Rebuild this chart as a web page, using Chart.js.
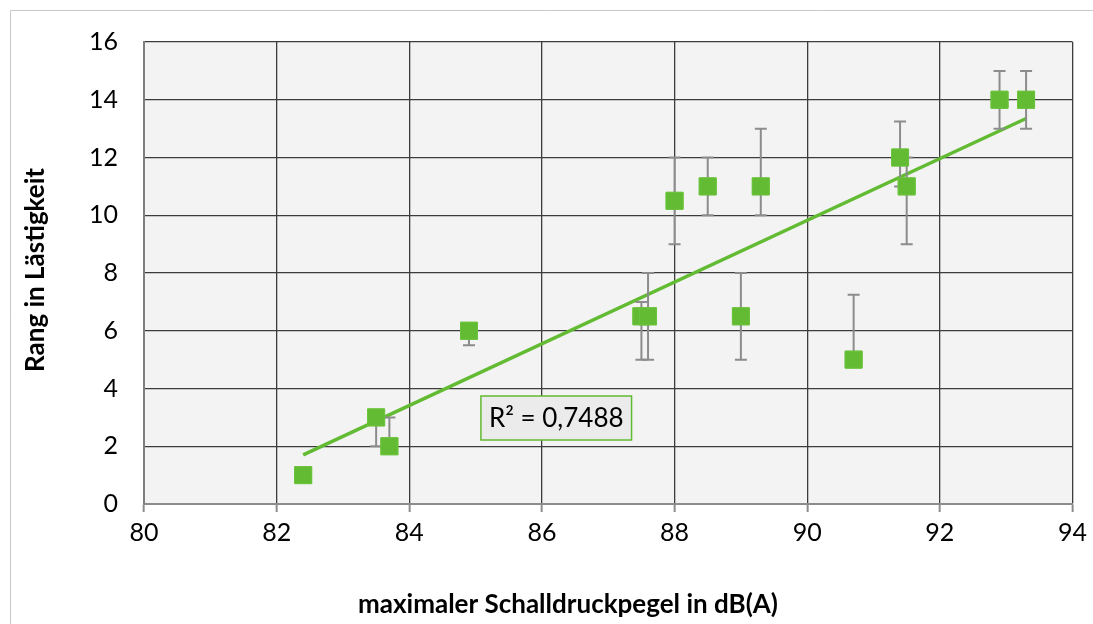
<!DOCTYPE html>
<html>
<head>
<meta charset="utf-8">
<script src="https://cdn.jsdelivr.net/npm/chart.js@4"></script>
<style>
    html, body { margin: 0; padding: 0; background: #fff; }
    #wrap { width: 1093px; height: 624px; position: relative; }
</style>
</head>
<body>
<div id="wrap"><canvas id="chart" width="1093" height="624"></canvas></div>
<script>
// Messwerte: maximaler Pegel vs. Rang in Lästigkeit
const pegel    = [82.4, 83.5, 83.7, 84.9, 87.5, 87.6, 88.0, 88.5, 89.3, 89.0, 90.7, 91.4, 91.5, 92.9, 93.3];
const rang     = [1.0,  3.0,  2.0,  6.0,  6.5,  6.5,  10.5, 11.0, 11.0, 6.5,  5.0,  12.0, 11.0, 14.0, 14.0];
const fehlerPlus  = [0,  0,    1.0,  0,    0.5,  1.5,  1.5,  1.0,  2.0,  1.5,  2.25, 1.25, 1.0,  1.0,  1.0];
const fehlerMinus = [0,  1.0,  0,    0.5,  1.5,  1.5,  1.5,  1.0,  1.0,  1.5,  0,    1.0,  2.0,  1.0,  1.0];

// Trendlinie (Endpunkte)
const trendX = [82.4, 93.3];
const trendY = [1.7, 13.35];
const rQuadrat = 'R² = 0,7488';

const xTicks = [80, 82, 84, 86, 88, 90, 92, 94];
const yTicks = [0, 2, 4, 6, 8, 10, 12, 14, 16];

const xTitel = 'maximaler Schalldruckpegel in dB(A)';
const yTitel = 'Rang in Lästigkeit';

const GREEN = '#62bb32';
const FONT = 'Lato, "Open Sans", sans-serif';

// Hintergrund, Rahmen, Fehlerbalken, Achsentitel und R²-Box
const decoPlugin = {
    id: 'deco',
    beforeDraw(chart) {
        const { ctx, chartArea: a } = chart;
        ctx.save();
        ctx.fillStyle = '#ffffff';
        ctx.fillRect(0, 0, chart.width, chart.height);
        ctx.strokeStyle = '#c8c8c8';
        ctx.lineWidth = 1;
        ctx.beginPath();
        ctx.moveTo(10.5, chart.height);
        ctx.lineTo(10.5, 10.5);
        ctx.lineTo(chart.width, 10.5);
        ctx.stroke();
        ctx.fillStyle = '#f3f3f3';
        ctx.fillRect(a.left, a.top, a.right - a.left, a.bottom - a.top);
        ctx.restore();
    },
    afterDatasetsDraw(chart) {
        const { ctx } = chart;
        const xs = chart.scales.x, ys = chart.scales.y;
        ctx.save();
        // Fehlerbalken
        ctx.strokeStyle = '#8c8c8c';
        ctx.lineWidth = 2;
        pegel.forEach((px, i) => {
            const x = xs.getPixelForValue(px);
            const y0 = ys.getPixelForValue(rang[i]);
            [[fehlerPlus[i], 1], [fehlerMinus[i], -1]].forEach(([e, s]) => {
                if (!e) return;
                const y1 = ys.getPixelForValue(rang[i] + s * e);
                ctx.beginPath();
                ctx.moveTo(x, y0);
                ctx.lineTo(x, y1);
                ctx.moveTo(x - 6, y1);
                ctx.lineTo(x + 6, y1);
                ctx.stroke();
            });
        });
        ctx.restore();
        // Punkte über den Fehlerbalken neu zeichnen
        chart.getDatasetMeta(1).controller.draw();

        // R²-Box
        ctx.save();
        const bx = xs.getPixelForValue(85.08), by = ys.getPixelForValue(3.74);
        ctx.font = '26px ' + FONT;
        const w = ctx.measureText(rQuadrat).width + 16;
        ctx.fillStyle = '#ebebeb';
        ctx.fillRect(bx, by, w, 44);
        ctx.strokeStyle = GREEN;
        ctx.lineWidth = 1.5;
        ctx.strokeRect(bx, by, w, 44);
        ctx.fillStyle = '#000';
        ctx.textBaseline = 'middle';
        ctx.fillText(rQuadrat, bx + 8, by + 23);
        ctx.restore();

        // Achsentitel
        ctx.save();
        ctx.fillStyle = '#000';
        ctx.font = 'bold 26px ' + FONT;
        ctx.textAlign = 'center';
        ctx.textBaseline = 'middle';
        ctx.fillText(xTitel, 568, 605);
        ctx.translate(36, 270);
        ctx.rotate(-Math.PI / 2);
        ctx.fillText(yTitel, 0, 0);
        ctx.restore();
    }
};

new Chart(document.getElementById('chart'), {
    type: 'scatter',
    data: {
        datasets: [
            {
                type: 'line',
                data: trendX.map((x, i) => ({ x, y: trendY[i] })),
                borderColor: GREEN,
                borderWidth: 3.5,
                pointRadius: 0,
                fill: false,
                order: 2
            },
            {
                data: pegel.map((x, i) => ({ x, y: rang[i] })),
                pointStyle: 'rect',
                pointRadius: 12,
                backgroundColor: GREEN,
                borderColor: '#6cc43e',
                borderWidth: 1,
                order: 1
            }
        ]
    },
    options: {
        responsive: false,
        animation: false,
        events: [],
        layout: { padding: { top: 42, right: 20, left: 0, bottom: 0 } },
        plugins: {
            legend: { display: false },
            tooltip: { enabled: false }
        },
        scales: {
            x: {
                type: 'linear',
                min: 80,
                max: 94,
                afterBuildTicks: s => { s.ticks = xTicks.map(v => ({ value: v })); },
                afterFit: s => { s.height = 120; },
                grid: {
                    color: '#3c3c3c',
                    lineWidth: 1.3,
                    tickLength: 8,
                    tickColor: '#8c8c8c',
                    tickWidth: 2
                },
                border: { color: '#8c8c8c', width: 2 },
                ticks: {
                    color: '#000',
                    font: { family: FONT, size: 25 },
                    padding: 6
                }
            },
            y: {
                type: 'linear',
                min: 0,
                max: 16,
                afterBuildTicks: s => { s.ticks = yTicks.map(v => ({ value: v })); },
                afterFit: s => { s.width = 144; },
                grid: {
                    color: '#3c3c3c',
                    lineWidth: 1.3,
                    drawTicks: false
                },
                border: { color: '#7f7f7f', width: 2 },
                ticks: {
                    color: '#000',
                    font: { family: FONT, size: 25 },
                    padding: 26
                }
            }
        }
    },
    plugins: [decoPlugin]
});
</script>
</body>
</html>
